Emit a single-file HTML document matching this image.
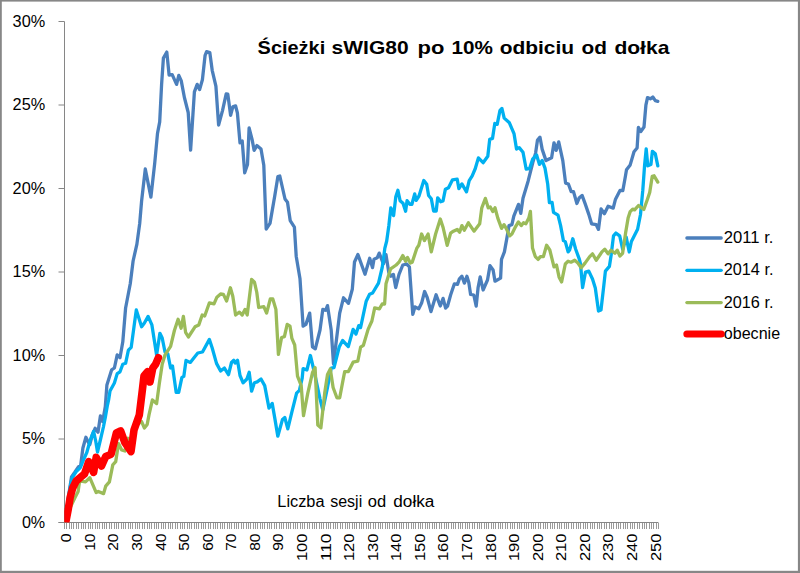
<!DOCTYPE html>
<html lang="pl"><head><meta charset="utf-8"><title>Ścieżki sWIG80 po 10% odbiciu od dołka</title>
<style>html,body{margin:0;padding:0;background:#fff;}body{width:800px;height:573px;overflow:hidden;}svg{display:block;}text{font-family:"Liberation Sans",sans-serif;fill:#000;}</style>
</head><body>
<svg width="800" height="573" viewBox="0 0 800 573">
<rect x="0" y="0" width="800" height="573" fill="#fff"/>
<g fill="#878787"><rect x="0" y="0" width="800" height="1.6"/><rect x="0" y="0" width="1.8" height="573"/><rect x="797.9" y="0" width="2.1" height="573"/><rect x="0" y="570.8" width="800" height="2.2"/></g>
<defs><clipPath id="plot"><rect x="64.2" y="0" width="736" height="522.4"/></clipPath></defs>
<g stroke="#868686" stroke-width="1" fill="none">
<line x1="64.5" y1="21.5" x2="64.5" y2="522.5"/>
<line x1="58.5" y1="522.5" x2="658.5" y2="522.5"/>
<line x1="58.5" y1="522.50" x2="64.5" y2="522.50"/>
<line x1="58.5" y1="439.00" x2="64.5" y2="439.00"/>
<line x1="58.5" y1="355.50" x2="64.5" y2="355.50"/>
<line x1="58.5" y1="272.00" x2="64.5" y2="272.00"/>
<line x1="58.5" y1="188.50" x2="64.5" y2="188.50"/>
<line x1="58.5" y1="105.00" x2="64.5" y2="105.00"/>
<line x1="58.5" y1="21.50" x2="64.5" y2="21.50"/>
</g>
<path d="M64.50 522.5V529.0M66.86 522.5V529.0M69.21 522.5V529.0M71.57 522.5V529.0M73.93 522.5V529.0M76.29 522.5V529.0M78.64 522.5V529.0M81.00 522.5V529.0M83.36 522.5V529.0M85.71 522.5V529.0M88.07 522.5V529.0M90.43 522.5V529.0M92.79 522.5V529.0M95.14 522.5V529.0M97.50 522.5V529.0M99.86 522.5V529.0M102.21 522.5V529.0M104.57 522.5V529.0M106.93 522.5V529.0M109.29 522.5V529.0M111.64 522.5V529.0M114.00 522.5V529.0M116.36 522.5V529.0M118.71 522.5V529.0M121.07 522.5V529.0M123.43 522.5V529.0M125.79 522.5V529.0M128.14 522.5V529.0M130.50 522.5V529.0M132.86 522.5V529.0M135.21 522.5V529.0M137.57 522.5V529.0M139.93 522.5V529.0M142.29 522.5V529.0M144.64 522.5V529.0M147.00 522.5V529.0M149.36 522.5V529.0M151.71 522.5V529.0M154.07 522.5V529.0M156.43 522.5V529.0M158.79 522.5V529.0M161.14 522.5V529.0M163.50 522.5V529.0M165.86 522.5V529.0M168.21 522.5V529.0M170.57 522.5V529.0M172.93 522.5V529.0M175.29 522.5V529.0M177.64 522.5V529.0M180.00 522.5V529.0M182.36 522.5V529.0M184.71 522.5V529.0M187.07 522.5V529.0M189.43 522.5V529.0M191.79 522.5V529.0M194.14 522.5V529.0M196.50 522.5V529.0M198.86 522.5V529.0M201.21 522.5V529.0M203.57 522.5V529.0M205.93 522.5V529.0M208.29 522.5V529.0M210.64 522.5V529.0M213.00 522.5V529.0M215.36 522.5V529.0M217.71 522.5V529.0M220.07 522.5V529.0M222.43 522.5V529.0M224.79 522.5V529.0M227.14 522.5V529.0M229.50 522.5V529.0M231.86 522.5V529.0M234.21 522.5V529.0M236.57 522.5V529.0M238.93 522.5V529.0M241.29 522.5V529.0M243.64 522.5V529.0M246.00 522.5V529.0M248.36 522.5V529.0M250.71 522.5V529.0M253.07 522.5V529.0M255.43 522.5V529.0M257.79 522.5V529.0M260.14 522.5V529.0M262.50 522.5V529.0M264.86 522.5V529.0M267.21 522.5V529.0M269.57 522.5V529.0M271.93 522.5V529.0M274.29 522.5V529.0M276.64 522.5V529.0M279.00 522.5V529.0M281.36 522.5V529.0M283.71 522.5V529.0M286.07 522.5V529.0M288.43 522.5V529.0M290.79 522.5V529.0M293.14 522.5V529.0M295.50 522.5V529.0M297.86 522.5V529.0M300.21 522.5V529.0M302.57 522.5V529.0M304.93 522.5V529.0M307.29 522.5V529.0M309.64 522.5V529.0M312.00 522.5V529.0M314.36 522.5V529.0M316.71 522.5V529.0M319.07 522.5V529.0M321.43 522.5V529.0M323.79 522.5V529.0M326.14 522.5V529.0M328.50 522.5V529.0M330.86 522.5V529.0M333.21 522.5V529.0M335.57 522.5V529.0M337.93 522.5V529.0M340.29 522.5V529.0M342.64 522.5V529.0M345.00 522.5V529.0M347.36 522.5V529.0M349.71 522.5V529.0M352.07 522.5V529.0M354.43 522.5V529.0M356.79 522.5V529.0M359.14 522.5V529.0M361.50 522.5V529.0M363.86 522.5V529.0M366.21 522.5V529.0M368.57 522.5V529.0M370.93 522.5V529.0M373.29 522.5V529.0M375.64 522.5V529.0M378.00 522.5V529.0M380.36 522.5V529.0M382.71 522.5V529.0M385.07 522.5V529.0M387.43 522.5V529.0M389.79 522.5V529.0M392.14 522.5V529.0M394.50 522.5V529.0M396.86 522.5V529.0M399.21 522.5V529.0M401.57 522.5V529.0M403.93 522.5V529.0M406.29 522.5V529.0M408.64 522.5V529.0M411.00 522.5V529.0M413.36 522.5V529.0M415.71 522.5V529.0M418.07 522.5V529.0M420.43 522.5V529.0M422.79 522.5V529.0M425.14 522.5V529.0M427.50 522.5V529.0M429.86 522.5V529.0M432.21 522.5V529.0M434.57 522.5V529.0M436.93 522.5V529.0M439.29 522.5V529.0M441.64 522.5V529.0M444.00 522.5V529.0M446.36 522.5V529.0M448.71 522.5V529.0M451.07 522.5V529.0M453.43 522.5V529.0M455.79 522.5V529.0M458.14 522.5V529.0M460.50 522.5V529.0M462.86 522.5V529.0M465.21 522.5V529.0M467.57 522.5V529.0M469.93 522.5V529.0M472.29 522.5V529.0M474.64 522.5V529.0M477.00 522.5V529.0M479.36 522.5V529.0M481.71 522.5V529.0M484.07 522.5V529.0M486.43 522.5V529.0M488.79 522.5V529.0M491.14 522.5V529.0M493.50 522.5V529.0M495.86 522.5V529.0M498.21 522.5V529.0M500.57 522.5V529.0M502.93 522.5V529.0M505.29 522.5V529.0M507.64 522.5V529.0M510.00 522.5V529.0M512.36 522.5V529.0M514.71 522.5V529.0M517.07 522.5V529.0M519.43 522.5V529.0M521.79 522.5V529.0M524.14 522.5V529.0M526.50 522.5V529.0M528.86 522.5V529.0M531.21 522.5V529.0M533.57 522.5V529.0M535.93 522.5V529.0M538.29 522.5V529.0M540.64 522.5V529.0M543.00 522.5V529.0M545.36 522.5V529.0M547.71 522.5V529.0M550.07 522.5V529.0M552.43 522.5V529.0M554.79 522.5V529.0M557.14 522.5V529.0M559.50 522.5V529.0M561.86 522.5V529.0M564.21 522.5V529.0M566.57 522.5V529.0M568.93 522.5V529.0M571.29 522.5V529.0M573.64 522.5V529.0M576.00 522.5V529.0M578.36 522.5V529.0M580.71 522.5V529.0M583.07 522.5V529.0M585.43 522.5V529.0M587.79 522.5V529.0M590.14 522.5V529.0M592.50 522.5V529.0M594.86 522.5V529.0M597.21 522.5V529.0M599.57 522.5V529.0M601.93 522.5V529.0M604.29 522.5V529.0M606.64 522.5V529.0M609.00 522.5V529.0M611.36 522.5V529.0M613.71 522.5V529.0M616.07 522.5V529.0M618.43 522.5V529.0M620.79 522.5V529.0M623.14 522.5V529.0M625.50 522.5V529.0M627.86 522.5V529.0M630.21 522.5V529.0M632.57 522.5V529.0M634.93 522.5V529.0M637.29 522.5V529.0M639.64 522.5V529.0M642.00 522.5V529.0M644.36 522.5V529.0M646.71 522.5V529.0M649.07 522.5V529.0M651.43 522.5V529.0M653.79 522.5V529.0M656.14 522.5V529.0M658.50 522.5V529.0" stroke="#9a9a9a" stroke-width="1" fill="none" shape-rendering="crispEdges"/>
<text x="45.2" y="527.8" font-size="17.2" text-anchor="end" textLength="23.3" lengthAdjust="spacingAndGlyphs">0%</text>
<text x="45.2" y="444.3" font-size="17.2" text-anchor="end" textLength="23.3" lengthAdjust="spacingAndGlyphs">5%</text>
<text x="45.2" y="360.8" font-size="17.2" text-anchor="end" textLength="32.6" lengthAdjust="spacingAndGlyphs">10%</text>
<text x="45.2" y="277.3" font-size="17.2" text-anchor="end" textLength="32.6" lengthAdjust="spacingAndGlyphs">15%</text>
<text x="45.2" y="193.8" font-size="17.2" text-anchor="end" textLength="32.6" lengthAdjust="spacingAndGlyphs">20%</text>
<text x="45.2" y="110.3" font-size="17.2" text-anchor="end" textLength="32.6" lengthAdjust="spacingAndGlyphs">25%</text>
<text x="45.2" y="26.8" font-size="17.2" text-anchor="end" textLength="32.6" lengthAdjust="spacingAndGlyphs">30%</text>
<text transform="translate(71.3,533.5) rotate(-90)" font-size="14.9" text-anchor="end" textLength="8.8" lengthAdjust="spacingAndGlyphs">0</text>
<text transform="translate(94.8,533.5) rotate(-90)" font-size="14.9" text-anchor="end" textLength="17.3" lengthAdjust="spacingAndGlyphs">10</text>
<text transform="translate(118.4,533.5) rotate(-90)" font-size="14.9" text-anchor="end" textLength="17.3" lengthAdjust="spacingAndGlyphs">20</text>
<text transform="translate(142.0,533.5) rotate(-90)" font-size="14.9" text-anchor="end" textLength="17.3" lengthAdjust="spacingAndGlyphs">30</text>
<text transform="translate(165.6,533.5) rotate(-90)" font-size="14.9" text-anchor="end" textLength="17.3" lengthAdjust="spacingAndGlyphs">40</text>
<text transform="translate(189.1,533.5) rotate(-90)" font-size="14.9" text-anchor="end" textLength="17.3" lengthAdjust="spacingAndGlyphs">50</text>
<text transform="translate(212.7,533.5) rotate(-90)" font-size="14.9" text-anchor="end" textLength="17.3" lengthAdjust="spacingAndGlyphs">60</text>
<text transform="translate(236.3,533.5) rotate(-90)" font-size="14.9" text-anchor="end" textLength="17.3" lengthAdjust="spacingAndGlyphs">70</text>
<text transform="translate(259.9,533.5) rotate(-90)" font-size="14.9" text-anchor="end" textLength="17.3" lengthAdjust="spacingAndGlyphs">80</text>
<text transform="translate(283.4,533.5) rotate(-90)" font-size="14.9" text-anchor="end" textLength="17.3" lengthAdjust="spacingAndGlyphs">90</text>
<text transform="translate(307.0,533.5) rotate(-90)" font-size="14.9" text-anchor="end" textLength="27.6" lengthAdjust="spacingAndGlyphs">100</text>
<text transform="translate(330.6,533.5) rotate(-90)" font-size="14.9" text-anchor="end" textLength="27.6" lengthAdjust="spacingAndGlyphs">110</text>
<text transform="translate(354.1,533.5) rotate(-90)" font-size="14.9" text-anchor="end" textLength="27.6" lengthAdjust="spacingAndGlyphs">120</text>
<text transform="translate(377.7,533.5) rotate(-90)" font-size="14.9" text-anchor="end" textLength="27.6" lengthAdjust="spacingAndGlyphs">130</text>
<text transform="translate(401.3,533.5) rotate(-90)" font-size="14.9" text-anchor="end" textLength="27.6" lengthAdjust="spacingAndGlyphs">140</text>
<text transform="translate(424.9,533.5) rotate(-90)" font-size="14.9" text-anchor="end" textLength="27.6" lengthAdjust="spacingAndGlyphs">150</text>
<text transform="translate(448.4,533.5) rotate(-90)" font-size="14.9" text-anchor="end" textLength="27.6" lengthAdjust="spacingAndGlyphs">160</text>
<text transform="translate(472.0,533.5) rotate(-90)" font-size="14.9" text-anchor="end" textLength="27.6" lengthAdjust="spacingAndGlyphs">170</text>
<text transform="translate(495.6,533.5) rotate(-90)" font-size="14.9" text-anchor="end" textLength="27.6" lengthAdjust="spacingAndGlyphs">180</text>
<text transform="translate(519.1,533.5) rotate(-90)" font-size="14.9" text-anchor="end" textLength="27.6" lengthAdjust="spacingAndGlyphs">190</text>
<text transform="translate(542.7,533.5) rotate(-90)" font-size="14.9" text-anchor="end" textLength="27.6" lengthAdjust="spacingAndGlyphs">200</text>
<text transform="translate(566.3,533.5) rotate(-90)" font-size="14.9" text-anchor="end" textLength="27.6" lengthAdjust="spacingAndGlyphs">210</text>
<text transform="translate(589.9,533.5) rotate(-90)" font-size="14.9" text-anchor="end" textLength="27.6" lengthAdjust="spacingAndGlyphs">220</text>
<text transform="translate(613.4,533.5) rotate(-90)" font-size="14.9" text-anchor="end" textLength="27.6" lengthAdjust="spacingAndGlyphs">230</text>
<text transform="translate(637.0,533.5) rotate(-90)" font-size="14.9" text-anchor="end" textLength="27.6" lengthAdjust="spacingAndGlyphs">240</text>
<text transform="translate(660.6,533.5) rotate(-90)" font-size="14.9" text-anchor="end" textLength="27.6" lengthAdjust="spacingAndGlyphs">250</text>
<text y="54" font-size="19" font-weight="bold"><tspan x="257.6" textLength="67.6" lengthAdjust="spacingAndGlyphs">Ścieżki</tspan> <tspan x="331.6" textLength="77" lengthAdjust="spacingAndGlyphs">sWIG80</tspan> <tspan x="417.6" textLength="26.8" lengthAdjust="spacingAndGlyphs">po</tspan> <tspan x="451.6" textLength="41.4" lengthAdjust="spacingAndGlyphs">10%</tspan> <tspan x="499.7" textLength="74.4" lengthAdjust="spacingAndGlyphs">odbiciu</tspan> <tspan x="581.6" textLength="25.4" lengthAdjust="spacingAndGlyphs">od</tspan> <tspan x="614.4" textLength="55" lengthAdjust="spacingAndGlyphs">dołka</tspan></text>
<text y="506.8" font-size="15.8"><tspan x="277.3" textLength="47.2" lengthAdjust="spacingAndGlyphs">Liczba</tspan> <tspan x="330.2" textLength="32.0" lengthAdjust="spacingAndGlyphs">sesji</tspan> <tspan x="367.8" textLength="18.4" lengthAdjust="spacingAndGlyphs">od</tspan> <tspan x="393.3" textLength="41.1" lengthAdjust="spacingAndGlyphs">dołka</tspan></text>
<g fill="none" stroke-linejoin="round" stroke-linecap="round" clip-path="url(#plot)">
<polyline points="65.4,522.0 67.5,505.0 69.5,490.0 71.5,477.0 75.0,472.0 78.4,466.8 80.7,465.2 82.9,448.0 85.9,437.3 88.2,442.0 89.8,444.5 92.3,435.0 95.1,428.3 98.0,432.2 100.4,416.0 102.7,421.6 105.3,406.5 106.9,384.9 111.6,369.9 114.4,368.0 117.2,354.9 120.0,357.7 122.8,341.8 125.6,308.0 130.3,283.5 133.1,261.0 136.9,244.1 139.7,223.5 141.6,201.0 145.3,169.0 150.9,197.1 154.7,163.4 157.5,133.4 159.7,121.9 161.6,84.4 163.4,58.1 166.8,52.1 169.1,75.0 172.2,74.6 176.6,84.4 178.8,75.4 181.2,80.6 184.4,97.5 188.2,112.5 190.6,150.2 194.4,91.9 197.2,84.4 199.6,89.6 202.4,79.7 205.1,55.3 206.6,51.6 209.8,52.5 212.2,70.3 215.9,86.2 218.6,125.0 222.5,110.6 226.2,93.8 227.8,94.1 230.6,115.3 232.8,106.9 235.6,105.9 237.4,113.0 240.0,142.8 242.2,140.9 244.7,172.8 247.5,164.4 249.1,128.0 252.2,140.0 254.1,150.3 256.9,145.6 261.0,149.0 263.8,165.3 266.2,229.0 270.0,223.4 274.7,196.2 277.9,176.6 279.8,176.0 285.0,199.0 287.5,202.3 290.2,220.6 294.4,227.2 296.2,256.2 300.0,278.8 303.1,326.2 305.9,324.4 309.7,313.1 312.5,346.9 315.3,348.8 320.0,330.0 322.8,309.4 325.6,310.3 327.5,305.6 331.2,330.0 333.5,363.8 339.7,313.1 343.5,297.8 348.5,303.3 352.3,289.3 354.5,262.0 357.9,254.5 365.0,274.2 369.7,258.3 372.5,267.6 374.0,259.2 377.2,257.8 379.2,253.1 383.4,263.8 386.0,254.7 388.8,272.5 391.0,276.2 393.4,274.4 395.7,287.5 399.0,274.4 402.8,265.0 406.6,264.0 409.4,266.9 412.8,314.4 415.0,306.9 418.8,308.8 421.6,303.1 424.6,291.5 427.2,297.5 431.0,311.6 436.1,294.8 440.3,306.0 443.1,298.4 445.6,308.1 447.5,306.2 450.6,295.0 454.4,283.8 457.5,284.4 459.4,278.8 461.9,276.2 464.4,283.1 466.9,276.2 468.8,282.5 470.6,294.4 473.8,295.0 476.2,306.2 478.1,287.5 480.2,276.9 483.1,290.0 487.5,280.0 490.0,265.6 493.1,270.0 495.0,281.2 500.6,278.1 501.5,259.4 504.4,251.9 508.1,231.2 509.0,225.6 511.9,224.7 513.8,216.2 518.5,204.4 520.8,213.3 523.0,198.3 528.1,181.2 532.8,162.5 535.6,153.1 537.5,140.0 540.0,137.2 542.2,149.4 546.0,160.6 551.6,157.8 554.0,142.8 556.2,150.3 558.7,141.9 562.8,160.6 565.6,183.1 568.4,184.0 571.2,191.6 573.5,191.6 576.9,203.5 579.1,198.1 582.1,195.4 585.2,203.9 588.8,214.4 591.6,223.8 596.2,224.7 598.5,229.4 601.1,209.0 604.4,213.7 608.1,206.3 613.2,208.1 615.5,199.2 620.0,190.4 622.8,190.7 625.5,175.8 626.5,169.8 630.2,164.9 634.0,151.8 637.1,148.0 638.4,127.4 640.8,131.5 644.0,127.0 645.9,105.1 647.5,97.6 650.3,98.8 652.8,97.0 655.3,100.7 657.8,101.4" stroke="#4B7FBC" stroke-width="3.3"/>
<polyline points="65.4,522.0 68.0,500.0 70.0,488.0 72.0,478.0 76.2,471.5 80.2,467.8 83.4,460.0 86.8,452.5 89.0,444.5 90.8,438.7 93.6,431.4 95.7,441.0 97.5,452.0 100.6,439.0 103.4,427.0 105.4,417.0 107.2,406.5 108.6,400.0 110.0,391.0 114.4,383.0 117.2,373.6 120.0,371.8 122.8,364.2 125.6,363.3 128.4,350.2 131.2,347.4 134.0,326.8 136.3,309.9 141.6,326.8 144.4,323.0 148.1,316.4 151.9,324.9 156.6,354.9 159.9,333.3 162.2,338.0 165.0,352.0 167.8,353.9 170.6,368.0 172.5,366.0 176.2,392.4 178.7,392.4 181.9,377.4 183.8,376.4 186.0,360.5 190.3,362.4 194.0,357.7 197.8,353.0 202.5,352.0 209.4,339.4 212.2,348.0 216.5,363.4 220.6,371.0 224.4,368.1 228.5,374.7 231.5,362.5 233.8,360.3 235.2,363.1 237.5,360.3 240.0,375.5 243.1,382.8 246.9,379.0 249.2,372.3 251.6,391.2 254.4,382.8 257.2,381.9 261.0,379.0 264.7,385.6 269.0,408.1 272.2,403.4 275.0,419.4 277.8,436.2 282.5,419.4 284.8,417.5 287.8,428.8 291.9,411.9 296.6,393.1 299.4,390.3 302.2,378.1 303.1,368.6 306.9,370.0 310.4,355.5 314.4,372.5 320.0,398.8 322.8,410.0 327.5,387.5 331.2,368.1 334.0,367.6 339.2,347.0 342.6,340.5 348.3,346.6 353.1,329.4 356.0,334.0 358.8,325.6 360.6,327.5 366.2,301.2 369.6,294.2 372.6,293.0 378.5,283.1 382.2,267.5 383.4,259.5 384.8,248.4 386.7,241.0 388.8,226.0 390.8,207.9 393.6,215.6 395.8,196.7 397.9,190.3 400.1,200.7 403.0,203.3 405.6,211.2 407.1,200.6 409.8,204.3 411.9,204.3 414.7,193.9 416.2,200.3 419.0,196.0 423.8,180.5 426.7,184.3 428.6,195.5 431.3,198.7 433.6,211.0 436.2,211.0 437.7,197.8 440.7,201.8 443.0,201.0 445.4,189.2 448.5,187.7 452.5,179.8 457.2,179.2 458.9,188.7 461.9,183.9 466.5,191.8 469.2,180.6 472.2,175.9 475.3,168.5 478.4,157.9 483.1,162.7 487.8,156.2 489.7,139.4 492.5,138.4 494.8,123.4 497.2,124.4 500.0,110.3 501.9,108.4 504.2,118.1 509.4,122.8 514.0,133.6 516.5,149.0 519.2,147.6 523.0,152.3 526.2,169.2 529.5,168.7 532.8,158.8 536.6,155.0 539.4,164.4 542.2,160.6 545.0,168.1 547.7,184.0 549.4,202.5 552.1,202.5 553.5,212.3 558.0,215.2 560.6,225.6 563.4,240.6 565.3,241.6 568.1,251.9 569.6,250.0 572.8,238.8 575.6,249.0 579.4,259.4 580.5,264.0 582.6,287.5 585.5,272.0 588.8,271.1 592.5,279.0 595.3,288.0 598.5,311.0 601.0,310.0 603.8,285.6 605.4,271.1 609.4,266.4 611.2,254.7 613.5,235.9 615.9,233.1 619.7,235.9 622.7,249.4 626.2,237.2 629.2,252.0 631.4,241.5 637.6,229.3 640.5,214.5 642.8,190.2 644.6,165.1 646.2,148.8 647.8,165.8 650.9,164.5 652.4,151.3 655.3,153.8 657.8,165.8" stroke="#00B0F0" stroke-width="3.3"/>
<polyline points="65.4,522.0 70.0,508.0 74.9,497.9 78.1,491.5 79.6,480.9 85.5,481.9 89.8,477.7 96.2,492.6 98.3,491.5 103.6,493.6 105.7,486.2 109.4,481.9 112.8,464.9 115.7,461.7 118.5,443.6 121.7,450.0 124.9,451.0 128.1,438.3 131.0,440.0 134.0,432.0 138.0,424.0 141.6,421.6 144.4,428.0 147.2,424.4 149.0,414.9 152.4,399.9 156.6,403.6 159.4,383.0 162.2,364.2 165.0,354.9 170.6,346.4 174.4,330.5 178.1,319.2 181.1,328.3 183.4,316.4 185.6,332.4 188.4,337.0 195.0,326.8 198.8,324.9 202.2,315.0 204.7,316.0 209.4,302.8 214.0,303.8 216.9,297.2 220.6,294.0 223.4,294.4 226.6,301.0 230.4,287.8 232.8,296.2 235.6,315.0 239.4,312.2 242.2,315.0 245.0,309.4 247.2,315.0 251.6,279.5 254.5,282.3 256.8,292.5 258.7,307.5 263.8,306.6 266.6,313.1 270.3,299.0 272.8,299.0 275.9,309.4 278.4,354.4 281.6,337.5 284.4,336.6 287.2,324.4 290.0,326.2 291.9,338.4 294.7,345.0 297.5,376.2 301.2,385.6 303.5,415.6 307.8,393.1 312.5,372.5 315.1,367.6 317.8,425.0 320.9,427.8 324.7,393.1 327.5,374.4 330.3,369.0 333.1,387.5 336.9,397.8 339.7,397.8 343.4,378.1 344.7,371.6 348.4,371.6 353.1,362.2 357.8,361.2 360.6,347.2 363.4,345.3 368.1,329.4 371.9,321.0 374.7,307.8 379.4,308.8 382.2,304.0 384.6,304.0 386.0,283.8 390.6,268.8 396.2,265.0 399.0,262.2 402.8,255.6 405.6,261.2 407.5,257.5 410.3,263.1 412.2,262.2 416.9,248.1 418.8,245.3 421.6,234.0 424.4,240.6 428.1,234.0 431.3,251.9 435.6,234.0 440.3,219.0 443.1,227.5 447.2,245.3 450.6,233.1 453.4,231.2 457.2,229.4 459.6,232.2 461.9,225.6 464.3,230.3 468.4,222.8 474.0,231.2 479.7,223.8 481.8,207.8 485.4,198.4 488.2,207.8 490.3,206.9 492.8,211.6 495.0,207.8 497.8,218.1 501.6,228.4 504.0,224.7 506.2,228.4 509.6,235.9 511.9,234.0 515.6,226.6 518.4,221.9 521.2,225.6 523.5,222.8 525.9,223.8 528.8,218.1 530.4,211.4 532.5,248.1 535.3,256.6 538.1,259.4 540.4,256.6 543.4,256.6 546.6,245.3 549.8,250.0 554.0,266.9 556.5,265.0 559.1,277.2 561.6,281.9 565.3,264.0 568.1,261.2 571.0,262.2 574.7,260.3 577.9,263.1 581.2,267.8 585.0,263.1 589.7,256.6 592.5,253.8 596.2,260.3 600.0,254.7 601.9,251.9 604.8,249.2 608.1,253.8 610.9,250.2 614.9,253.3 617.2,250.2 619.9,256.0 622.6,253.3 625.7,232.2 628.1,218.1 630.2,211.6 632.7,209.1 634.6,209.9 638.5,205.5 643.8,209.5 647.2,200.0 649.7,192.5 652.2,176.4 654.1,175.8 657.8,182.1" stroke="#9BBB59" stroke-width="3.3"/>
<polyline points="65.6,523.0 68.3,509.0 70.3,496.7 72.7,488.0 76.2,481.0 80.4,477.4 84.6,473.8 88.7,461.7 93.6,472.3 96.2,457.4 101.5,466.0 105.7,456.4 111.1,454.2 116.4,433.0 120.6,430.9 124.9,442.6 131.0,451.5 134.0,430.0 139.3,415.0 142.3,390.5 144.0,376.0 147.4,371.8 150.0,382.0 152.8,368.0 155.6,364.2 158.4,357.7" stroke="#FF0000" stroke-width="7.6"/>
</g>
<g fill="none" stroke-linecap="round">
<line x1="686.9" y1="238" x2="721.2" y2="238" stroke="#4B7FBC" stroke-width="3.3"/>
<line x1="686.9" y1="270.3" x2="721.2" y2="270.3" stroke="#00B0F0" stroke-width="3.3"/>
<line x1="686.9" y1="302.6" x2="721.2" y2="302.6" stroke="#9BBB59" stroke-width="3.3"/>
<line x1="686.9" y1="334" x2="721.2" y2="334" stroke="#FF0000" stroke-width="7.1"/>
</g>
<text x="723.8" y="243.2" font-size="16" textLength="49.6" lengthAdjust="spacingAndGlyphs">2011 r.</text>
<text x="723.8" y="275.4" font-size="16" textLength="49.6" lengthAdjust="spacingAndGlyphs">2014 r.</text>
<text x="723.8" y="307.8" font-size="16" textLength="49.6" lengthAdjust="spacingAndGlyphs">2016 r.</text>
<text x="723.8" y="338.9" font-size="16" textLength="56.3" lengthAdjust="spacingAndGlyphs">obecnie</text>
</svg></body></html>
